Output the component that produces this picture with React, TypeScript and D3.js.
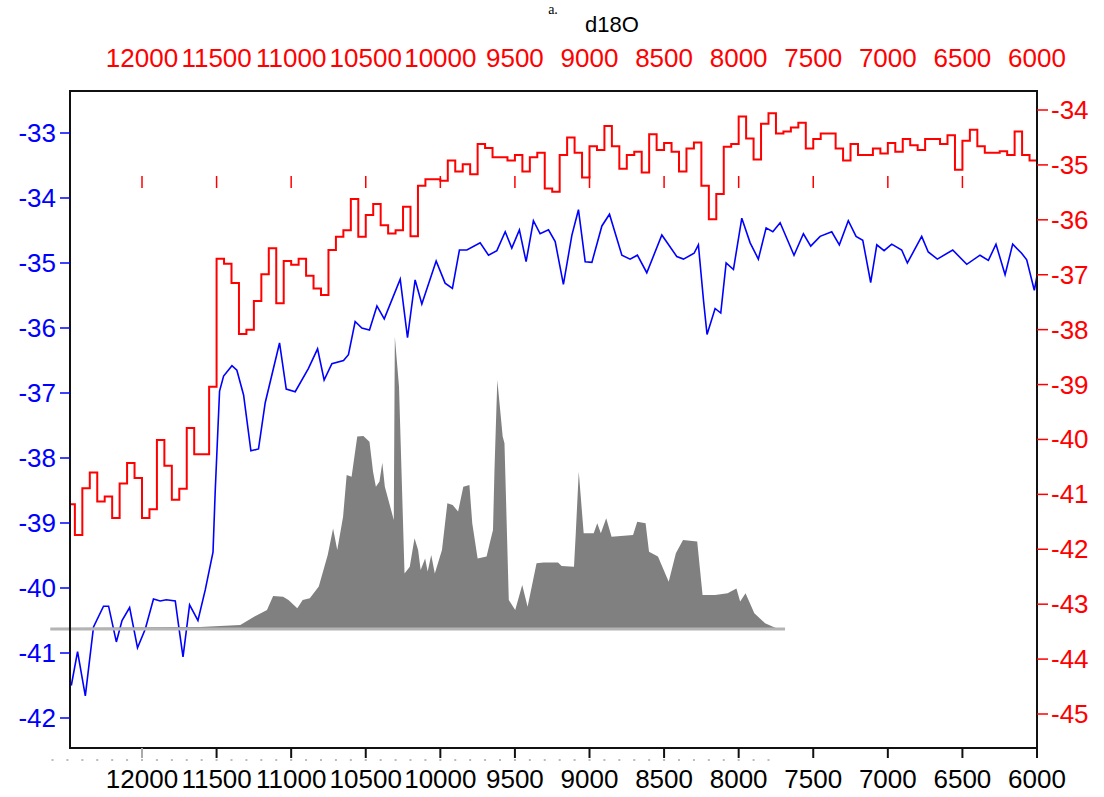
import * as d3 from "d3";

// years BP on both horizontal axes (reversed, old on the left)
const yearTicks = [12000, 11500, 11000, 10500, 10000, 9500, 9000, 8500, 8000, 7500, 7000, 6500, 6000];
const leftTicks = [-33, -34, -35, -36, -37, -38, -39, -40, -41, -42];
const rightTicks = [-34, -35, -36, -37, -38, -39, -40, -41, -42, -43, -44, -45];

// blue curve, read against the left axis
const blueSeries: [number, number][] = [
  [12474, -41.5], [12432, -40.98], [12380, -41.66], [12325, -40.6], [12258, -40.28],
  [12224, -40.28], [12172, -40.83], [12134, -40.5], [12083, -40.3], [12030, -40.92],
  [11978, -40.63], [11923, -40.17], [11878, -40.2], [11837, -40.18], [11777, -40.2],
  [11755, -40.57], [11725, -41.06], [11681, -40.26], [11625, -40.5], [11576, -40.03],
  [11524, -39.45], [11509, -38.5], [11480, -36.97], [11453, -36.74], [11397, -36.58],
  [11364, -36.65], [11319, -37.03], [11270, -37.89], [11219, -37.86], [11174, -37.15],
  [11078, -36.23], [11033, -36.94], [10973, -36.98], [10884, -36.62], [10823, -36.32],
  [10779, -36.8], [10727, -36.55], [10649, -36.5], [10616, -36.41], [10571, -35.9],
  [10526, -36.0], [10475, -36.03], [10425, -35.66], [10376, -35.86], [10269, -35.25],
  [10220, -36.15], [10169, -35.26], [10124, -35.63], [10028, -34.97], [9968, -35.31],
  [9919, -35.39], [9872, -34.8], [9822, -34.8], [9733, -34.69], [9677, -34.88],
  [9621, -34.81], [9565, -34.52], [9521, -34.77], [9470, -34.49], [9425, -34.98],
  [9376, -34.35], [9331, -34.55], [9275, -34.49], [9230, -34.67], [9175, -35.33],
  [9118, -34.57], [9074, -34.18], [9029, -34.98], [8984, -34.99], [8917, -34.43],
  [8866, -34.25], [8783, -34.88], [8728, -34.94], [8679, -34.88], [8616, -35.15],
  [8515, -34.57], [8415, -34.9], [8370, -34.94], [8299, -34.85], [8270, -34.72],
  [8236, -35.57], [8212, -36.1], [8158, -35.7], [8120, -35.77], [8084, -35.0],
  [8035, -35.1], [7979, -34.31], [7923, -34.69], [7868, -34.94], [7816, -34.46],
  [7771, -34.52], [7722, -34.38], [7629, -34.88], [7566, -34.55], [7517, -34.74],
  [7454, -34.59], [7376, -34.52], [7325, -34.72], [7265, -34.35], [7213, -34.59],
  [7168, -34.65], [7115, -35.3], [7074, -34.72], [7025, -34.81], [6974, -34.71],
  [6907, -34.8], [6869, -35.0], [6773, -34.59], [6729, -34.83], [6668, -34.94],
  [6565, -34.8], [6471, -35.02], [6382, -34.88], [6326, -34.96], [6275, -34.71],
  [6214, -35.18], [6163, -34.71], [6103, -34.85], [6069, -34.95], [6018, -35.42],
  [6000, -35.2],
];

// red d18O steps (50-year bins), read against the right axis
const redSteps: [number, number][] = [
  [12480, -41.18], [12450, -41.74], [12400, -40.89], [12350, -40.6], [12300, -41.13],
  [12250, -41.04], [12200, -41.43], [12150, -40.8], [12100, -40.43], [12050, -40.7],
  [12000, -41.43], [11950, -41.27], [11900, -40.01], [11850, -40.48], [11800, -41.1],
  [11750, -40.9], [11700, -39.79], [11650, -40.27], [11550, -39.04], [11500, -36.71],
  [11450, -36.8], [11400, -37.15], [11350, -38.08], [11300, -38.0], [11250, -37.48],
  [11200, -36.99], [11150, -36.52], [11100, -37.52], [11050, -36.75], [11000, -36.82],
  [10950, -36.71], [10900, -37.02], [10850, -37.25], [10800, -37.37], [10750, -36.55],
  [10700, -36.31], [10650, -36.19], [10600, -35.62], [10550, -36.31], [10500, -35.91],
  [10450, -35.71], [10400, -36.1], [10350, -36.25], [10300, -36.19], [10250, -35.76],
  [10200, -36.3], [10150, -35.38], [10100, -35.26], [10000, -35.29], [9950, -34.92],
  [9900, -35.12], [9850, -34.99], [9800, -35.17], [9750, -34.62], [9700, -34.69],
  [9650, -34.86], [9550, -34.92], [9500, -34.82], [9450, -35.12], [9400, -34.86],
  [9350, -34.78], [9300, -35.43], [9250, -35.49], [9200, -34.82], [9150, -34.5],
  [9100, -34.78], [9050, -35.23], [9000, -34.66], [8950, -34.73], [8900, -34.29],
  [8850, -34.66], [8800, -35.07], [8750, -34.82], [8700, -34.76], [8650, -35.14],
  [8600, -34.44], [8550, -34.73], [8500, -34.6], [8450, -34.76], [8400, -35.12],
  [8350, -34.7], [8300, -34.59], [8250, -35.38], [8200, -35.99], [8150, -35.53],
  [8100, -34.67], [8050, -34.62], [8000, -34.12], [7950, -34.52], [7900, -34.9],
  [7850, -34.25], [7800, -34.06], [7750, -34.43], [7700, -34.39], [7650, -34.32],
  [7600, -34.23], [7550, -34.7], [7500, -34.53], [7450, -34.43], [7350, -34.7],
  [7300, -34.92], [7250, -34.62], [7200, -34.82], [7100, -34.7], [7050, -34.79],
  [7000, -34.6], [6950, -34.76], [6900, -34.53], [6850, -34.64], [6800, -34.73],
  [6750, -34.53], [6650, -34.62], [6600, -34.46], [6550, -35.09], [6500, -34.56],
  [6450, -34.36], [6400, -34.66], [6350, -34.78], [6250, -34.75], [6200, -34.82],
  [6150, -34.39], [6100, -34.82], [6050, -34.92], [6000, -34.92],
];

// grey silhouette (relative units, no axis of its own)
const graySeries: [number, number][] = [
  [12615, 0], [11610, 0.3], [11341, 1], [11246, 3.8], [11162, 6], [11121, 10.7],
  [11054, 10.4], [11018, 9.3], [10959, 6.6], [10923, 9.3], [10875, 9.9], [10815, 13.8],
  [10755, 24.3], [10719, 33.2], [10691, 26], [10652, 37.1], [10628, 51], [10595, 50.4],
  [10557, 63.8], [10516, 64], [10475, 62.1], [10451, 52.1], [10432, 47.1], [10408, 48.8],
  [10389, 55.1], [10372, 47.1], [10312, 36], [10305, 97.1], [10277, 80.4], [10240, 18.2],
  [10205, 20.4], [10173, 29.9], [10149, 26], [10132, 19.3], [10102, 23.2], [10085, 18.8],
  [10061, 24.3], [10037, 18.2], [9989, 26], [9953, 41.6], [9917, 41], [9881, 38.8],
  [9846, 47.1], [9805, 47.7], [9786, 34.9], [9750, 23.2], [9690, 23.8], [9666, 28.8],
  [9647, 32.7], [9637, 52.7], [9618, 82.7], [9582, 63.8], [9570, 61.6], [9541, 9.3],
  [9498, 6], [9451, 14.3], [9415, 7.1], [9355, 21.6], [9307, 21.8], [9211, 21.8],
  [9187, 20.7], [9104, 20.4], [9092, 31.6], [9072, 52.1], [9039, 31.6], [8972, 31.6],
  [8948, 34.9], [8924, 31.6], [8888, 36.6], [8852, 30.4], [8708, 31], [8680, 35.4],
  [8624, 34.9], [8601, 25.4], [8541, 23.8], [8469, 15.4], [8421, 24.9], [8373, 29.3],
  [8278, 28.8], [8242, 11], [8158, 11], [8074, 11.6], [8015, 13.2], [7990, 8.8],
  [7954, 11.6], [7895, 4.9], [7823, 1.6], [7751, 0], [7689, 0],
];

const font = "'Liberation Sans', Arial, sans-serif";

export default function App() {
  const width = 1104;
  const height = 797;
  const plot = { left: 70, right: 1037, top: 91, bottom: 748 };

  const x = d3.scaleLinear().domain([12000, 6000]).range([142, 1037]);
  const yLeft = d3.scaleLinear().domain([-33, -42]).range([133, 718]);
  const yRight = d3.scaleLinear().domain([-34, -45]).range([110, 714]);
  const grayBase = 628;
  const yGray = d3.scaleLinear().domain([0, 100]).range([grayBase, grayBase - 300]);

  const blueLine = d3
    .line<[number, number]>()
    .x((d) => x(d[0]))
    .y((d) => yLeft(d[1]));
  const redLine = d3
    .line<[number, number]>()
    .x((d) => x(d[0]))
    .y((d) => yRight(d[1]))
    .curve(d3.curveStepAfter);
  const grayArea = d3
    .area<[number, number]>()
    .x((d) => x(d[0]))
    .y0(yGray(0))
    .y1((d) => yGray(d[1]));

  const first = graySeries[0][0];
  const last = graySeries[graySeries.length - 1][0];
  const minorDots = d3.range(12600, 7700, -100);

  return (
    <svg
      width={width}
      height={height}
      style={{ position: "absolute", left: 0, top: 0, background: "#fff" }}
    >
      <text x={553} y={14} fontFamily="'Liberation Serif', serif" fontSize={14} textAnchor="middle">
        a.
      </text>
      <text x={612} y={32} fontFamily={font} fontSize={22} textAnchor="middle" fill="#000">
        d18O
      </text>

      {/* top year labels, red */}
      {yearTicks.map((t) => (
        <text key={"top" + t} x={x(t)} y={67} fill="#ff0000" fontFamily={font} fontSize={26} textAnchor="middle">
          {t}
        </text>
      ))}
      {/* red tick marks of the top axis, drawn inside the frame */}
      {yearTicks.map((t) => (
        <line key={"rt" + t} x1={x(t)} x2={x(t)} y1={176} y2={188} stroke="#ff0000" strokeWidth={1.5} />
      ))}

      <path d={blueLine(blueSeries) ?? ""} fill="none" stroke="#0000ff" strokeWidth={1.6} />
      <path d={redLine(redSteps) ?? ""} fill="none" stroke="#ff0000" strokeWidth={2} />

      <path d={grayArea(graySeries) ?? ""} fill="#808080" />
      <line x1={x(first)} x2={x(last)} y1={grayBase + 1} y2={grayBase + 1} stroke="#b4b4b4" strokeWidth={3} />

      {/* frame */}
      <rect
        x={plot.left}
        y={plot.top}
        width={plot.right - plot.left}
        height={plot.bottom - plot.top}
        fill="none"
        stroke="#111"
        strokeWidth={2}
      />

      {/* left axis */}
      {leftTicks.map((t) => (
        <g key={"l" + t}>
          <line x1={plot.left - 10} x2={plot.left} y1={yLeft(t)} y2={yLeft(t)} stroke="#0000ff" strokeWidth={1.5} />
          <text x={plot.left - 14} y={yLeft(t) + 9} fill="#0000ff" fontFamily={font} fontSize={26} textAnchor="end">
            {"-" + Math.abs(t)}
          </text>
        </g>
      ))}

      {/* right axis */}
      {rightTicks.map((t) => (
        <g key={"r" + t}>
          <line x1={plot.right} x2={plot.right + 11} y1={yRight(t)} y2={yRight(t)} stroke="#ff0000" strokeWidth={1.5} />
          <text x={plot.right + 14} y={yRight(t) + 9} fill="#ff0000" fontFamily={font} fontSize={26} textAnchor="start">
            {"-" + Math.abs(t)}
          </text>
        </g>
      ))}

      {/* bottom axis */}
      {minorDots.map((t) => (
        <rect key={"d" + t} x={x(t) - 1} y={759} width={2} height={2} fill="#bbbbbb" />
      ))}
      {yearTicks.map((t) => (
        <g key={"b" + t}>
          <line
            x1={x(t)}
            x2={x(t)}
            y1={plot.bottom}
            y2={plot.bottom + 10}
            stroke={t === 12000 ? "#aaaaaa" : "#111"}
            strokeWidth={2}
          />
          <text x={x(t)} y={788} fill="#000" fontFamily={font} fontSize={26} textAnchor="middle">
            {t}
          </text>
        </g>
      ))}
    </svg>
  );
}
